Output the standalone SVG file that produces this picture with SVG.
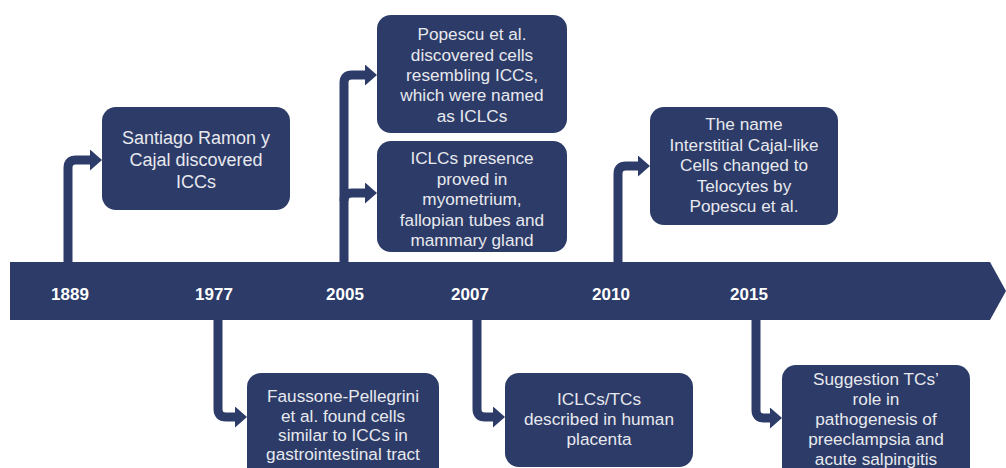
<svg xmlns="http://www.w3.org/2000/svg" width="1006" height="468" viewBox="0 0 1006 468">
<style>
.box{fill:#2c3b68;}
.t{font-family:"Liberation Sans",Arial,sans-serif;font-size:17.2px;fill:#e8e9ee;text-anchor:middle;}
.yr{font-family:"Liberation Sans",Arial,sans-serif;font-size:17px;font-weight:bold;fill:#ffffff;text-anchor:middle;}
.c{fill:none;stroke:#2c3b68;stroke-width:9;marker-end:url(#ah);}
</style>
<defs>
<marker id="ah" markerUnits="userSpaceOnUse" markerWidth="12" markerHeight="21" refX="2" refY="10.5" orient="auto" viewBox="0 0 12 21">
<path d="M0,0 L12,10.5 L0,21 z" fill="#2c3b68"/>
</marker>
</defs>
<rect width="1006" height="468" fill="#ffffff"/>
<g id="connectors">
<path class="c" d="M68,266 V168 Q68,160 76,160 H92"/>
<path class="c" d="M344,266 V83 Q344,75 352,75 H367"/>
<path class="c" d="M344,201 Q344,193 352,193 H367"/>
<path class="c" d="M618,266 V174 Q618,166 626,166 H640"/>
<path class="c" d="M218,316 V409 Q218,417 226,417 H237"/>
<path class="c" d="M477,316 V409 Q477,417 485,417 H495"/>
<path class="c" d="M756,316 V410 Q756,418 764,418 H772"/>
</g>
<g id="timeline">
<polygon points="10,262 990,262 1006,291 990,320 10,320" fill="#2c3b68"/>
<text class="yr" x="70" y="300">1889</text>
<text class="yr" x="214" y="300">1977</text>
<text class="yr" x="345" y="300">2005</text>
<text class="yr" x="470" y="300">2007</text>
<text class="yr" x="611" y="300">2010</text>
<text class="yr" x="749" y="300">2015</text>
</g>
<g id="n1889">
<rect class="box" x="102" y="107" width="188" height="103" rx="14"/>
<text class="t" style="font-size:18px" x="196" y="144">Santiago Ramon y</text>
<text class="t" style="font-size:18px" x="196" y="166">Cajal discovered</text>
<text class="t" style="font-size:18px" x="196" y="188">ICCs</text>
</g>
<g id="n2005a">
<rect class="box" x="377" y="15" width="190" height="118" rx="14"/>
<text class="t" x="472" y="40">Popescu et al.</text>
<text class="t" x="472" y="60.5">discovered cells</text>
<text class="t" x="472" y="81">resembling ICCs,</text>
<text class="t" x="472" y="101">which were named</text>
<text class="t" x="472" y="121.5">as ICLCs</text>
</g>
<g id="n2005b">
<rect class="box" x="377" y="141" width="190" height="111" rx="14"/>
<text class="t" x="472" y="164">ICLCs presence</text>
<text class="t" x="472" y="184.5">proved in</text>
<text class="t" x="472" y="205">myometrium,</text>
<text class="t" x="472" y="225.5">fallopian tubes and</text>
<text class="t" x="472" y="246">mammary gland</text>
</g>
<g id="n2010">
<rect class="box" x="650" y="107" width="188" height="118" rx="14"/>
<text class="t" x="744" y="130">The name</text>
<text class="t" x="744" y="150.5">Interstitial Cajal-like</text>
<text class="t" x="744" y="171">Cells changed to</text>
<text class="t" x="744" y="191.5">Telocytes by</text>
<text class="t" x="744" y="212">Popescu et al.</text>
</g>
<g id="n1977">
<rect class="box" x="247" y="373" width="192" height="110" rx="14"/>
<text class="t" x="343" y="402">Faussone-Pellegrini</text>
<text class="t" x="343" y="422">et al. found cells</text>
<text class="t" x="343" y="441">similar to ICCs in</text>
<text class="t" x="343" y="460">gastrointestinal tract</text>
</g>
<g id="n2007">
<rect class="box" x="505" y="373" width="188" height="94" rx="14"/>
<text class="t" x="599" y="405">ICLCs/TCs</text>
<text class="t" x="599" y="425">described in human</text>
<text class="t" x="599" y="445">placenta</text>
</g>
<g id="n2015">
<rect class="box" x="782" y="365" width="188" height="118" rx="14"/>
<text class="t" x="876" y="385">Suggestion TCs’</text>
<text class="t" x="876" y="405">role in</text>
<text class="t" x="876" y="425">pathogenesis of</text>
<text class="t" x="876" y="445">preeclampsia and</text>
<text class="t" x="876" y="465">acute salpingitis</text>
</g>
</svg>
